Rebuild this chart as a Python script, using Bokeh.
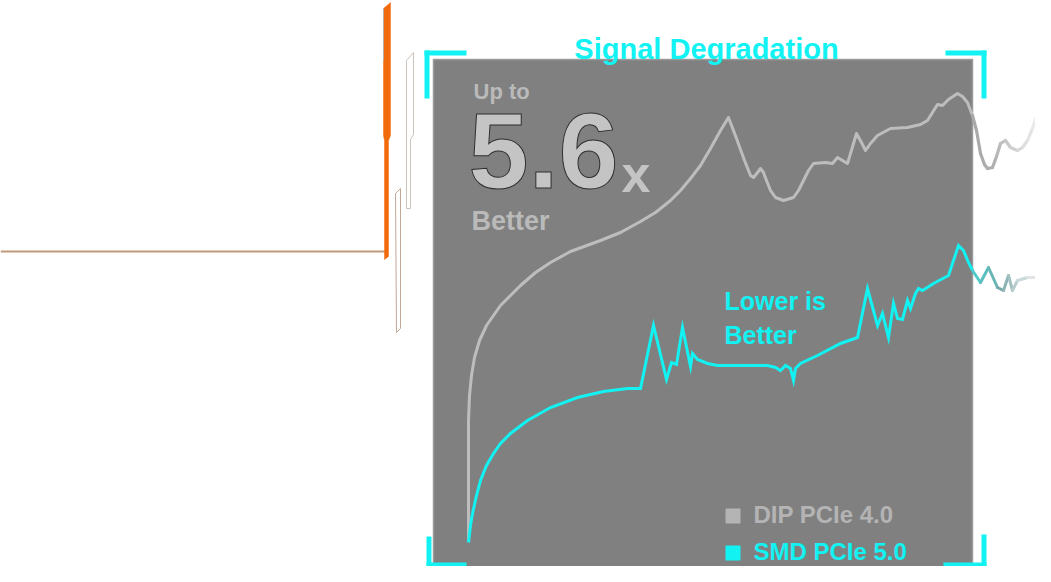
from bokeh.plotting import figure
from bokeh.models import Range1d
from bokeh.core.properties import value
from bokeh.embed import file_html
from bokeh.resources import INLINE

# ---------------- data (screen-like units) ----------------
dip_x = [468, 468, 468, 468, 469, 471, 474, 479, 486, 493, 500, 507, 520, 535, 550, 570, 600, 620,
         640, 655, 670, 680, 690, 700, 710, 720, 728, 736, 744, 750, 753, 757, 760, 763, 766, 770,
         775, 783, 793, 798, 803, 808, 813, 825, 832, 837, 842, 847, 856, 861, 865, 870, 877, 890,
         907, 920, 927, 932, 937, 942, 948, 957, 962, 967, 972]
dip_y = [540, 500, 460, 420, 395, 375, 357, 340, 325, 315, 305, 298, 285, 272, 262, 251, 240, 232,
         221, 212, 200, 190, 178, 165, 148, 130, 117, 138, 160, 175, 177, 172, 168, 172, 180, 190,
         197, 200, 197, 190, 180, 170, 163, 162, 163, 157, 160, 163, 133, 142, 150, 143, 135, 128,
         127, 124, 120, 112, 104, 105, 99, 93, 96, 102, 115]
dip_tail_x = [972, 976, 980, 984, 987, 992, 996, 1000, 1005, 1010, 1017, 1022, 1027, 1032, 1037, 1041, 1045]
dip_tail_y = [115, 130, 153, 164, 168, 167, 156, 143, 140, 147, 150, 147, 140, 128, 113, 100, 90]

smd_x = [468, 470, 472, 476, 480, 486, 493, 500, 510, 527, 550, 577, 603, 627, 640, 653, 666, 671,
         676, 682, 690, 692, 697, 707, 717, 740, 767, 775, 780, 785, 790, 793, 795, 800, 817, 840,
         857, 867, 877, 882, 888, 893, 897, 902, 907, 910, 915, 918, 922, 933, 948, 958, 963, 968, 972]
smd_y = [542, 525, 513, 495, 480, 465, 453, 443, 433, 420, 407, 397, 391, 388, 388, 325, 379, 362,
         364, 327, 366, 353, 359, 363, 365, 365, 365, 367, 370, 365, 368, 380, 368, 363, 355, 343,
         337, 288, 325, 313, 337, 303, 318, 319, 300, 308, 293, 288, 290, 283, 275, 245, 250, 262, 270]
smd_tail_x = [972, 980, 988, 997, 1003, 1008, 1012, 1017, 1027, 1040, 1050]
smd_tail_y = [270, 282, 267, 287, 290, 275, 290, 280, 277, 277, 277]

series_names = ["DIP PCIe 4.0", "SMD PCIe 5.0"]
title_text = "Signal Degradation"
headline = ["Up to", "5.6", "x", "Better"]
note = ["Lower is", "Better"]

# ---------------- styles ----------------
CYAN = "#12f2f2"
GRAY_LINE = "#bdbdbd"
PANEL = "#808080"
FONT = "Liberation Sans"

W, H = 1035, 566
p = figure(width=W, height=H, output_backend="svg", toolbar_location=None,
           x_range=Range1d(0, W), y_range=Range1d(H, 0),
           min_border=0, background_fill_color="white", border_fill_color="white")
p.axis.visible = False
p.grid.visible = False
p.outline_line_color = None

# left decorative strokes
p.line(x=[0, 386], y=[251, 251], line_color="#c2977a", line_width=2.2)
p.patch(x=[383, 390, 390, 388, 388, 384, 384, 383], y=[8, 2, 135, 140, 256, 259, 140, 135],
        fill_color="#f26a0c", line_color="#f26a0c", line_width=0.5)
p.line(x=[383, 383], y=[8, 60], line_color="#b8b0a8", line_width=1)
p.patch(x=[406, 413, 413, 410, 410, 406], y=[60, 52, 134, 139, 208, 208],
        fill_color="white", line_color="#cbc2ba", line_width=1)
p.patch(x=[395, 400, 400, 396], y=[193, 188, 328, 332],
        fill_color="white", line_color="#c2a896", line_width=1)

# panel
p.quad(left=433, right=972, top=59, bottom=571, fill_color=PANEL, line_color="#9a9a9a", line_width=1.5)

# cyan corner brackets
for (l, r, t, b) in [(424, 466, 50, 55), (424, 429, 50, 98),
                     (945, 986, 50, 55), (981, 986, 50, 98),
                     (426, 431, 536, 566), (426, 466, 562, 566),
                     (981, 986, 534, 566), (943, 986, 562, 566)]:
    p.quad(left=l, right=r, top=t, bottom=b, fill_color=CYAN, line_color=None)


def lerp_hex(c1, c2, t):
    a = [int(c1[i:i + 2], 16) for i in (1, 3, 5)]
    b = [int(c2[i:i + 2], 16) for i in (1, 3, 5)]
    return "#" + "".join(f"{round(a[k] + (b[k] - a[k]) * t):02x}" for k in range(3))


def tail_colors(xs, stops):
    out = []
    for i in range(len(xs) - 1):
        t = i / max(1, len(xs) - 2)
        seg = min(int(t * (len(stops) - 1)), len(stops) - 2)
        lt = t * (len(stops) - 1) - seg
        out.append(lerp_hex(stops[seg], stops[seg + 1], lt))
    return out


# series lines
p.line(x=dip_x, y=dip_y, line_color=GRAY_LINE, line_width=3, line_join="round")
p.segment(x0=dip_tail_x[:-1], y0=dip_tail_y[:-1], x1=dip_tail_x[1:], y1=dip_tail_y[1:],
          line_color=tail_colors(dip_tail_x, ["#a8a8a8", "#b0b0b0", "#d8d8d8", "#f4f4f4"]),
          line_width=3.2, line_cap="round")
p.line(x=smd_x, y=smd_y, line_color=CYAN, line_width=3, line_join="miter")
p.segment(x0=smd_tail_x[:-1], y0=smd_tail_y[:-1], x1=smd_tail_x[1:], y1=smd_tail_y[1:],
          line_color=tail_colors(smd_tail_x, ["#4ecaca", "#78aaaa", "#b8cccc", "#f2f2f2"]),
          line_width=3, line_cap="round")

# title
p.text(x=[706], y=[48], text=[title_text], text_color=CYAN, text_font=value(FONT),
       text_font_style="bold", text_font_size="29px", text_align="center", text_baseline="alphabetic")

# headline
p.text(x=[473], y=[91], text=[headline[0]], text_color="#bababa", text_font=value(FONT),
       text_font_style="bold", text_font_size="22px", text_baseline="alphabetic")
p.text(x=[468], y=[150], text=[headline[1]], text_color="#c4c4c4", text_font=value(FONT),
       text_font_style="bold", text_font_size="108px", text_baseline="alphabetic",
       text_outline_color="#2e2e2e")
p.text(x=[621], y=[173], text=[headline[2]], text_color="#c4c4c4", text_font=value(FONT),
       text_font_style="bold", text_font_size="52px", text_baseline="alphabetic")
p.text(x=[471], y=[220], text=[headline[3]], text_color="#bababa", text_font=value(FONT),
       text_font_style="bold", text_font_size="27px", text_baseline="alphabetic")

# note
p.text(x=[724, 724], y=[300, 334], text=note, text_color=CYAN, text_font=value(FONT),
       text_font_style="bold", text_font_size="25px", text_baseline="alphabetic")

# legend
p.quad(left=[725, 725], right=[740, 740], top=[508, 545], bottom=[523, 560],
       fill_color=["#b4b4b4", CYAN], line_color=None)
p.text(x=[753, 753], y=[514, 551], text=series_names, text_color=["#b4b4b4", CYAN],
       text_font=value(FONT), text_font_style="bold", text_font_size="24px",
       text_baseline="alphabetic")

open("out.html", "w").write(file_html(p, INLINE))
